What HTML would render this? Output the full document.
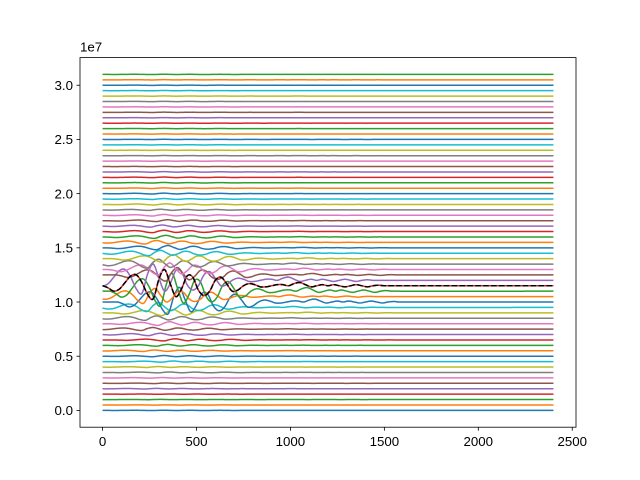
<!DOCTYPE html>
<html><head><meta charset="utf-8">
<style>
html,body{margin:0;padding:0;background:#fff;}
svg{display:block;font-family:"Liberation Sans","DejaVu Sans",sans-serif;}
</style></head>
<body>
<svg id="chart" width="640" height="480" viewBox="0 0 640 480">
  <rect width="640" height="480" fill="#fff"/>
  <g id="lines"></g>
  <g id="axes"></g>
</svg>
<script>
// ---- data ----
const offsetStep = 500000;
const nLines = 63;
const waveX = [0,30,60,90,120,150,180,210,240,270,300,330,360,390,420,450,480,510,540,570,600,630,660,690,720,750,780,810,840,870,900,930,960,990,1020,1050,1080,1110,1140,1170,1200,1230,1260,1290,1320,1350,1380,1410,1440,1470,1500,2400];
const waveY = [0,-0.2,-0.5,-0.3,0.3,0.9,1.0,0.3,-0.8,-1.2,0.6,1.5,0.2,-1.0,-0.3,0.9,0.8,-0.4,-0.9,-0.5,0.5,0.8,0.2,-0.5,-0.4,0,0.2,0.1,-0.1,-0.1,0,0.1,0.1,0,0.2,0.3,0.1,-0.1,0,0.1,0,0.1,0,-0.1,0,0.1,0,-0.1,0,0.05,0,0];
const amps = [0.01,0.01,0.01,0.01,0.02,0.02,0.02,0.03,0.03,0.04,0.04,0.05,0.06,0.07,0.08,0.1,0.12,0.15,0.2,0.3,0.9,0.5,1.1,1.0,1.0,0.45,0.4,0.3,0.25,0.18,0.14,0.12,0.1,0.08,0.07,0.06,0.05,0.04,0.04,0.03,0.03,0.02,0.02,0.02,0.02,0.01,0.01,0.01,0.01,0.01,0.01,0.01,0.01,0.01,0.01,0.01,0.01,0.01,0.01,0.01,0.01,0.01,0.01];
const shifts = [0,20,-20,40,-40,10,-10,30,-30,50,0,-50,20,60,-20,-60,30,-40,50,-30,80,-50,40,0,-60,70,30,-30,50,-20,20,-40,10,0,-10,20,0,-20,10,0,0,0,0,0,0,0,0,0,0,0,0,0,0,0,0,0,0,0,0,0,0,0,0];
const blackIndex = 23;
const xTicks = [0,500,1000,1500,2000,2500];
const yTicks = [0,0.5,1.0,1.5,2.0,2.5,3.0];
const yTickLabels = ["0.0","0.5","1.0","1.5","2.0","2.5","3.0"];
const colors = ["#1f77b4","#ff7f0e","#2ca02c","#d62728","#9467bd","#8c564b","#e377c2","#7f7f7f","#bcbd22","#17becf"];

// ---- axes functions ----
const L=80,R=576,T=57.6,B=427.2;
const xmin=-120,xmax=2520,ymin=-1.55e6,ymax=3.255e7;
const sx=x=>L+(x-xmin)/(xmax-xmin)*(R-L);
const sy=y=>B-(y-ymin)/(ymax-ymin)*(B-T);
const NS='http://www.w3.org/2000/svg';

function wave(x){
  if(x<=waveX[0])return waveY[0];
  for(let k=0;k<waveX.length-1;k++){
    if(x<=waveX[k+1]){
      const p0=waveY[Math.max(k-1,0)],p1=waveY[k],p2=waveY[k+1],p3=waveY[Math.min(k+2,waveY.length-1)];
      const t=(x-waveX[k])/(waveX[k+1]-waveX[k]);
      return 0.5*((2*p1)+(-p0+p2)*t+(2*p0-5*p1+4*p2-p3)*t*t+(-p0+3*p1-3*p2+p3)*t*t*t);
    }
  }
  return 0;
}
function pathFor(i){
  let d='';
  for(let x=0;x<=2400;x+=5){
    const y=i*offsetStep+amps[i]*1e6*wave(x-shifts[i]);
    d+=(x===0?'M':'L')+sx(x).toFixed(2)+','+sy(y).toFixed(2);
  }
  return d;
}
const g=document.getElementById('lines');
for(let i=0;i<nLines;i++){
  const p=document.createElementNS(NS,'path');
  p.setAttribute('d',pathFor(i));
  p.setAttribute('fill','none');
  p.setAttribute('stroke',colors[i%10]);
  p.setAttribute('stroke-width','1.5');
  
  
  g.appendChild(p);
}
const bl=document.createElementNS(NS,'path');
bl.setAttribute('d',pathFor(blackIndex));
bl.setAttribute('fill','none');
bl.setAttribute('stroke','#000');
bl.setAttribute('stroke-width','1.5');
bl.setAttribute('stroke-dasharray','5.5,2.4');


g.appendChild(bl);

const ax=document.getElementById('axes');
const fr=document.createElementNS(NS,'rect');
fr.setAttribute('x',L);fr.setAttribute('y',T);fr.setAttribute('width',R-L);fr.setAttribute('height',B-T);
fr.setAttribute('fill','none');fr.setAttribute('stroke','#000');fr.setAttribute('stroke-width','0.8');


ax.appendChild(fr);
xTicks.forEach(v=>{
  const x=sx(v);
  const l=document.createElementNS(NS,'line');
  l.setAttribute('x1',x);l.setAttribute('x2',x);l.setAttribute('y1',B);l.setAttribute('y2',B+3.5);
  l.setAttribute('stroke','#000');l.setAttribute('stroke-width','0.8');
  
  
  ax.appendChild(l);
  const t=document.createElementNS(NS,'text');
  t.setAttribute('x',x);t.setAttribute('y',B+19);t.setAttribute('text-anchor','middle');t.setAttribute('font-size','13.3');
  t.textContent=v;
  
  
  ax.appendChild(t);
});
yTicks.forEach((v,k)=>{
  const y=sy(v*1e7);
  const l=document.createElementNS(NS,'line');
  l.setAttribute('x1',L-3.5);l.setAttribute('x2',L);l.setAttribute('y1',y);l.setAttribute('y2',y);
  l.setAttribute('stroke','#000');l.setAttribute('stroke-width','0.8');
  
  
  ax.appendChild(l);
  const t=document.createElementNS(NS,'text');
  t.setAttribute('x',L-7);t.setAttribute('y',y+4.8);t.setAttribute('text-anchor','end');t.setAttribute('font-size','13.3');
  t.textContent=yTickLabels[k];
  
  
  ax.appendChild(t);
});
const off=document.createElementNS(NS,'text');
off.setAttribute('x',L);off.setAttribute('y',T-6);off.setAttribute('font-size','13.3');
off.textContent='1e7';


ax.appendChild(off);
</script>
</body></html>
